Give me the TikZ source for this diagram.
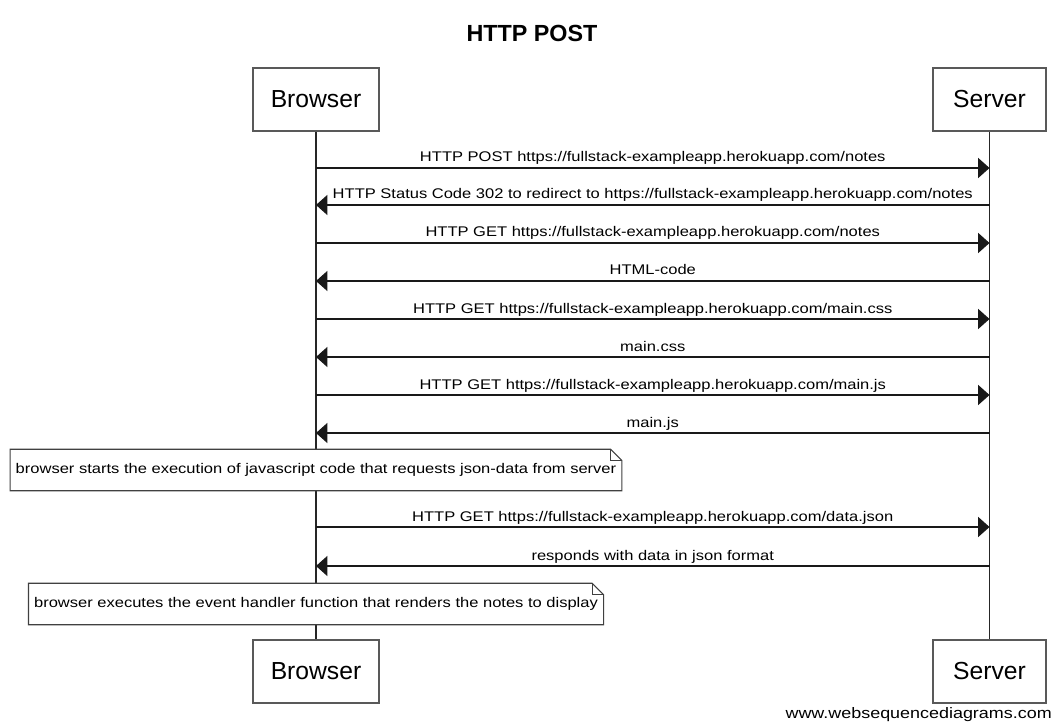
\documentclass[tikz,border=0pt]{standalone}
\usepackage{fontspec}
\setmainfont{Liberation Sans}
\newfontfamily\msgfont{Liberation Sans}[FakeStretch=1.18]
\usetikzlibrary{arrows.meta}

\begin{document}
\begin{tikzpicture}[
  x=0.75pt, y=-0.75pt,
  actor/.style={draw=black!65, line width=1.2pt, fill=white, minimum height=47.25pt, inner sep=0pt, font=\fontsize{18.5}{20}\selectfont},
  lifeline/.style={draw=black!85, line width=0.9pt},
  msg/.style={-{Triangle[length=8.5pt, width=15pt]}, draw=black!90, line width=0.8pt},
  lbl/.style={anchor=base, yshift=4.5pt, inner sep=0pt, font=\msgfont\fontsize{10.5}{12}\selectfont},
  note/.style={fill=white, minimum height=30.75pt, inner xsep=4pt, font=\msgfont\fontsize{10.5}{12}\selectfont},
  noteline/.style={draw=black!75, line width=0.8pt},
]

% Canvas with the reference's margins.
\fill[white] (0,0) rectangle (1063,727);
\useasboundingbox (0,0) rectangle (1063,727);

\node[font=\bfseries\fontsize{17.5}{20}\selectfont] (title) at (532,33) {HTTP POST};

% Participants, top and bottom.
\node[actor, minimum width=94.5pt] (bt) at (316,99.5) {Browser};
\node[actor, minimum width=84.75pt] (st) at (989.5,99.5) {Server};
\node[actor, minimum width=94.5pt] (bb) at (316,671.5) {Browser};
\node[actor, minimum width=84.75pt] (sb) at (989.5,671.5) {Server};

% Lifelines.
\draw[lifeline] (bt.south) -- (bb.north);
\draw[lifeline] (st.south) -- (sb.north);

% Message end points on both lifelines.
\foreach \y [count=\i] in {168,205,243,281,319,357,395,433,527,566} {
  \coordinate (b\i) at (bt.south |- 0,\y);
  \coordinate (s\i) at (st.south |- 0,\y);
}

% Messages.
\draw[msg] (b1) -- node[lbl] {HTTP POST https://fullstack-exampleapp.herokuapp.com/notes} (s1);
\draw[msg] (s2) -- node[lbl] {HTTP Status Code 302 to redirect to https://fullstack-exampleapp.herokuapp.com/notes} (b2);
\draw[msg] (b3) -- node[lbl] {HTTP GET https://fullstack-exampleapp.herokuapp.com/notes} (s3);
\draw[msg] (s4) -- node[lbl] {HTML-code} (b4);
\draw[msg] (b5) -- node[lbl] {HTTP GET https://fullstack-exampleapp.herokuapp.com/main.css} (s5);
\draw[msg] (s6) -- node[lbl] {main.css} (b6);
\draw[msg] (b7) -- node[lbl] {HTTP GET https://fullstack-exampleapp.herokuapp.com/main.js} (s7);
\draw[msg] (s8) -- node[lbl] {main.js} (b8);
\draw[msg] (b9) -- node[lbl] {HTTP GET https://fullstack-exampleapp.herokuapp.com/data.json} (s9);
\draw[msg] (s10) -- node[lbl] {responds with data in json format} (b10);

% Notes over the browser lifeline, with a folded corner.
\node[note] (n1) at (bt.south |- 0,470) {browser starts the execution of javascript code that requests json-data from server};
\node[note] (n2) at (bt.south |- 0,604) {browser executes the event handler function that renders the notes to display};
\foreach \n in {n1,n2} {
  \draw[noteline] (\n.south west) -- (\n.north west) -- ([xshift=-8.5pt]\n.north east)
    -- ([yshift=-8.5pt]\n.north east) -- (\n.south east) -- cycle;
  \draw[noteline] ([xshift=-8.5pt]\n.north east) |- ([yshift=-8.5pt]\n.north east);
}

\node[anchor=base east, inner sep=0pt, font=\msgfont\fontsize{11.4}{13}\selectfont] (wm) at (1052,718) {www.websequencediagrams.com};

\end{tikzpicture}
\end{document}
